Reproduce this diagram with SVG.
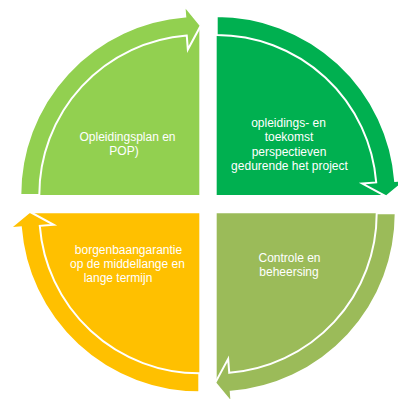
<svg xmlns="http://www.w3.org/2000/svg" width="398" height="399" viewBox="0 0 398 399">
<style>
.arrow{stroke:#fff;stroke-width:2;stroke-linejoin:miter;stroke-miterlimit:10}
.lbl{font-family:"Liberation Sans",Arial,sans-serif;font-size:12px;fill:#fff;text-anchor:middle}
</style>
<defs>
<path id="pie" d="M0,0 L-170,0 A170,170 0 0 1 0,-170 Z"/>
<path id="arr" d="M-179,0 A179,179 0 0 1 -14.04,-178.45 L-14.91,-189.41 L1.48,-169.49 L-11.46,-145.55 L-12.55,-159.51 A160,160 0 0 0 -160,0 Z"/>
</defs>
<rect width="398" height="399" fill="#fff"/>
<g id="node1">
<use href="#pie" transform="translate(199.3,195)" fill="#92D050"/>
</g>
<g id="node2">
<use href="#pie" transform="translate(216.7,195) rotate(90)" fill="#00B050"/>
</g>
<g id="node3">
<use href="#pie" transform="translate(216.7,213.3) rotate(180)" fill="#9BBB59"/>
</g>
<g id="node4">
<use href="#pie" transform="translate(199.3,213.3) rotate(270)" fill="#FFC000"/>
</g>
<g id="connectors">
<use href="#arr" class="arrow" transform="translate(199.3,195)" fill="#92D050"/>
<use href="#arr" class="arrow" transform="translate(216.7,195) rotate(90)" fill="#00B050"/>
<use href="#arr" class="arrow" transform="translate(216.7,213.3) rotate(180)" fill="#9BBB59"/>
<use href="#arr" class="arrow" transform="translate(199.3,213.3) rotate(270)" fill="#FFC000"/>
</g>
<g id="labels">
<text class="lbl" x="127.5" y="141">Opleidingsplan en</text>
<text class="lbl" x="124" y="155">POP)</text>
<text class="lbl" x="288.5" y="127">opleidings- en</text>
<text class="lbl" x="289" y="141.4">toekomst</text>
<text class="lbl" x="289" y="155.8">perspectieven</text>
<text class="lbl" x="289.5" y="170.2">gedurende het project</text>
<text class="lbl" x="289.5" y="262">Controle en</text>
<text class="lbl" x="289" y="275.5">beheersing</text>
<text class="lbl" x="128.5" y="254">borgenbaangarantie</text>
<text class="lbl" x="127.5" y="268">op de middellange en</text>
<text class="lbl" x="118" y="282">lange termijn</text>
</g>
</svg>
